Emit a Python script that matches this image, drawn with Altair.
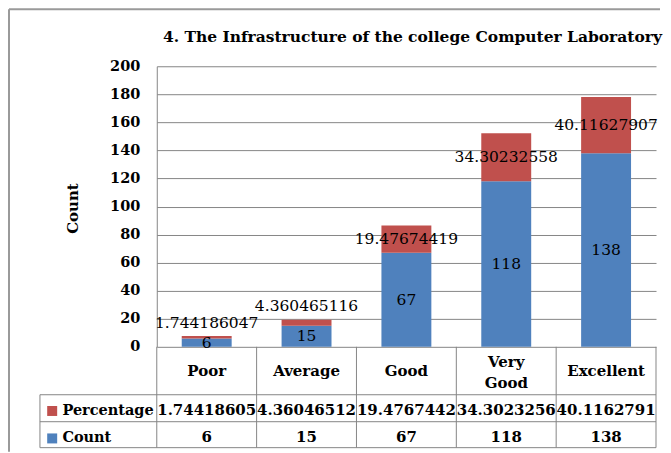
import altair as alt
import pandas as pd

# ---- data ----
categories = ["Poor", "Average", "Good", "Very Good", "Excellent"]
header_labels = ["Poor", "Average", "Good", "Very\nGood", "Excellent"]
count_values = [6, 15, 67, 118, 138]
percentage_values = [1.744186047, 4.360465116, 19.47674419, 34.30232558, 40.11627907]
series_names = ["Percentage", "Count"]
series_colors = ["#C0504D", "#4F81BD"]
y_ticks = [0, 20, 40, 60, 80, 100, 120, 140, 160, 180, 200]
chart_title = ["4. The Infrastructure of the college Computer Laboratory"]

rows = []
for i, c in enumerate(categories):
    rows.append({"cat": c, "header": header_labels[i], "series": "Count",
                 "value": count_values[i], "order": 0})
    rows.append({"cat": c, "header": header_labels[i], "series": "Percentage",
                 "value": percentage_values[i], "order": 1})
df = pd.DataFrame(rows)
one = pd.DataFrame({"k": [0]})

W, H = 500, 281
FONT = "DejaVu Serif"
GRID = "#868686"
BORDER = "#9a9a9a"
YDOM = alt.Scale(domain=[0, 200], nice=False)

x_enc = alt.X("cat:N", sort=categories,
              scale=alt.Scale(paddingInner=0, paddingOuter=0),
              axis=alt.Axis(labels=False, ticks=False, domain=True,
                            domainColor=GRID, title=None, grid=False))

base = alt.Chart(df).transform_window(
    end="sum(value)", groupby=["cat"], sort=[alt.SortField("order")], frame=[None, 0]
).transform_calculate(
    start="datum.end - datum.value",
    labelpos="datum.series == 'Percentage' && datum.value < 10 ? datum.end + 9.5 : (2*datum.end - datum.value)/2",
    label="datum.series == 'Count' ? format(datum.value, 'd') : format(datum.value, '.10r')",
    tlabel="datum.series == 'Count' ? format(datum.value, 'd') : format(datum.value, '.9r')",
)

bars = base.mark_bar(width=alt.RelativeBandSize(0.5)).encode(
    x=x_enc,
    y=alt.Y("start:Q", scale=YDOM,
            axis=alt.Axis(values=y_ticks, grid=True, gridColor=GRID, domainColor=GRID,
                          ticks=False, labelFont=FONT, labelFontWeight="bold",
                          labelFontSize=14.5, labelColor="black", labelPadding=17,
                          title="Count", titleFont=FONT, titleFontWeight="bold",
                          titleFontSize=15, titleColor="black", titleX=-84, titleY=142,
                          titleAngle=-90, titleAlign="center", titleBaseline="middle")),
    y2="end:Q",
    color=alt.Color("series:N",
                    scale=alt.Scale(domain=series_names, range=series_colors),
                    legend=alt.Legend(orient="none", legendX=-112, legendY=338, title=None,
                                      symbolType="square", symbolSize=100,
                                      symbolStrokeWidth=0, labelFont=FONT,
                                      labelFontWeight="bold", labelFontSize=14.5,
                                      labelColor="black", rowPadding=12.5, padding=0,
                                      labelOffset=3)),
    order=alt.Order("order:Q"),
)

labels = base.mark_text(font=FONT, fontSize=15.5, color="black", baseline="middle").encode(
    x=x_enc,
    y=alt.Y("labelpos:Q", scale=YDOM, axis=None),
    text="label:N",
)

header_one = base.transform_filter(
    "datum.series == 'Count' && indexof(datum.header, '\\n') < 0"
).mark_text(
    font=FONT, fontSize=15, fontWeight="bold", color="black", baseline="middle"
).encode(x=x_enc, y=alt.value(305), text="header:N")

header_two = base.transform_filter(
    "datum.series == 'Count' && indexof(datum.header, '\\n') >= 0"
).mark_text(
    font=FONT, fontSize=15, fontWeight="bold", color="black", baseline="middle",
    lineBreak="\n", lineHeight=21
).encode(x=x_enc, y=alt.value(296), text="header:N")

table = base.mark_text(font=FONT, fontSize=15, fontWeight="bold", color="black",
                       baseline="middle").encode(
    x=x_enc,
    y=alt.Y("series:N", scale=alt.Scale(domain=series_names, range=[344, 371], padding=0),
            axis=None),
    text="tlabel:N",
)

def hline(y, x1, x2, color=GRID, w=1):
    return alt.Chart(one).mark_rule(color=color, strokeWidth=w).encode(
        x=alt.value(x1), x2=alt.value(x2), y=alt.value(y))

def vline(x, y1, y2, color=GRID, w=1):
    return alt.Chart(one).mark_rule(color=color, strokeWidth=w).encode(
        x=alt.value(x), y=alt.value(y1), y2=alt.value(y2))

cell_lines = base.transform_filter("datum.series == 'Count'").mark_rule(
    color=GRID, strokeWidth=1).encode(
    x=alt.X("cat:N", sort=categories, bandPosition=0,
            scale=alt.Scale(paddingInner=0, paddingOuter=0), axis=None),
    y=alt.value(281), y2=alt.value(382))

title = alt.Chart(pd.DataFrame({"t": chart_title})).mark_text(
    font=FONT, fontSize=15.5, fontWeight="bold", color="black", baseline="middle"
).encode(x=alt.value(256), y=alt.value(-29), text="t:N")

chart = alt.layer(
    hline(-57, -148, 504, BORDER, 2),
    vline(-148, -57, 386, BORDER, 2),
    bars, labels, header_one, header_two, table, cell_lines,
    hline(329, -117, 500), hline(356, -117, 500), hline(382, -117, 500),
    vline(-117, 329, 382), vline(500, 281, 382),
    title,
).resolve_scale(y="independent").properties(
    width=W, height=H, padding=0
).configure_view(stroke=None)

chart.save("out.html", embed_options={"renderer": "svg", "actions": False})
